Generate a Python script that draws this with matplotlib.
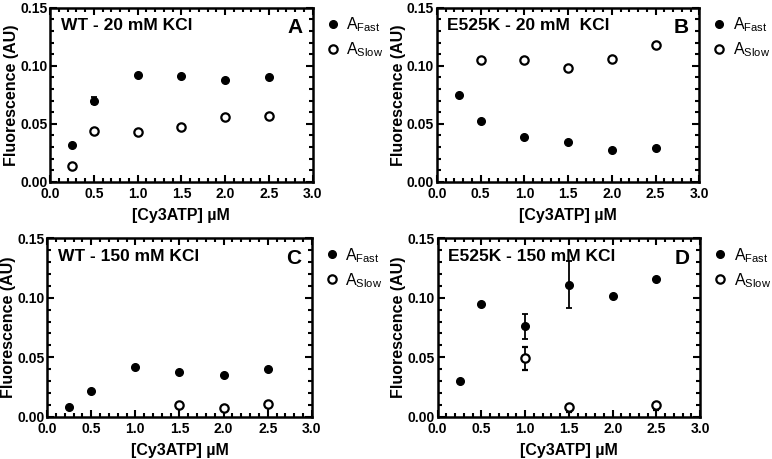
import numpy as np
import matplotlib.pyplot as plt
from matplotlib.lines import Line2D
from matplotlib.ticker import MultipleLocator, FormatStrFormatter

plt.rcParams['font.family'] = ['Liberation Sans', 'DejaVu Sans']

conc = [0.25, 0.5, 1.0, 1.5, 2.0, 2.5]

# panel A: WT 20 mM KCl
a_fast = [0.032, 0.070, 0.092, 0.091, 0.088, 0.090]
a_fast_err = [0, 0.003, 0, 0, 0, 0]
a_slow = [0.014, 0.044, 0.043, 0.047, 0.056, 0.057]

# panel B: E525K 20 mM KCl
b_fast = [0.075, 0.052, 0.039, 0.034, 0.027, 0.029]
b_slow_x = [0.5, 1.0, 1.5, 2.0, 2.5]
b_slow = [0.105, 0.105, 0.098, 0.106, 0.118]

# panel C: WT 150 mM KCl
c_fast = [0.008, 0.022, 0.042, 0.038, 0.035, 0.040]
c_slow_x = [1.5, 2.0, 2.5]
c_slow = [0.0095, 0.007, 0.0105]
c_slow_err = [0.005, 0.004, 0.005]

# panel D: E525K 150 mM KCl
d_fast = [0.030, 0.095, 0.076, 0.111, 0.1015, 0.116]
d_fast_err = [0, 0, 0.0103, 0.020, 0, 0]
d_slow_x = [1.0, 1.5, 2.5]
d_slow = [0.049, 0.008, 0.0095]
d_slow_err_lo = [0.010, 0.004, 0.004]
d_slow_err_hi = [0.010, 0, 0]

titles = ["WT - 20 mM KCl", "E525K - 20 mM  KCl", "WT - 150 mM KCl", "E525K - 150 mM KCl"]
letters = ["A", "B", "C", "D"]
positions = [
    [0.065, 0.604, 0.340, 0.379],
    [0.566, 0.604, 0.340, 0.379],
    [0.061, 0.092, 0.343, 0.389],
    [0.567, 0.092, 0.340, 0.389],
]

fig = plt.figure(figsize=(7.72, 4.59), dpi=100)
axes = [fig.add_axes(p) for p in positions]

fast_kw = dict(fmt='o', color='black', ms=5.5, capsize=2.5, elinewidth=1.3, capthick=1.3)
slow_kw = dict(fmt='o', color='black', mfc='white', mec='black', mew=1.6, ms=6,
               capsize=2.5, elinewidth=1.3, capthick=1.3)

ax = axes[0]
ax.errorbar(conc, a_fast, yerr=a_fast_err, **fast_kw)
ax.errorbar(conc, a_slow, **slow_kw)

ax = axes[1]
ax.errorbar(conc, b_fast, **fast_kw)
ax.errorbar(b_slow_x, b_slow, **slow_kw)

ax = axes[2]
ax.errorbar(conc, c_fast, **fast_kw)
ax.errorbar(c_slow_x, c_slow, yerr=[c_slow_err, [0] * 3], **dict(slow_kw, capsize=0))

ax = axes[3]
ax.errorbar(conc, d_fast, yerr=d_fast_err, **fast_kw)
ax.errorbar(d_slow_x, d_slow, yerr=[d_slow_err_lo, d_slow_err_hi], **slow_kw)

handles = [
    Line2D([], [], ls='none', marker='o', color='black', ms=5.5),
    Line2D([], [], ls='none', marker='o', mfc='white', mec='black', mew=1.6, ms=6),
]
labels = [r'A$_{\mathregular{Fast}}$', r'A$_{\mathregular{Slow}}$']

for i, ax in enumerate(axes):
    ax.set_xlim(0, 3.0)
    ax.set_ylim(0, 0.15)
    ax.xaxis.set_major_locator(MultipleLocator(0.5))
    ax.xaxis.set_minor_locator(MultipleLocator(0.1))
    ax.yaxis.set_major_locator(MultipleLocator(0.05))
    ax.yaxis.set_minor_locator(MultipleLocator(0.01))
    ax.xaxis.set_major_formatter(FormatStrFormatter('%.1f'))
    ax.yaxis.set_major_formatter(FormatStrFormatter('%.2f'))
    for s in ax.spines.values():
        s.set_linewidth(1.8)
    ax.tick_params(which='both', top=True, right=True, direction='in', width=1.5,
                   labelsize=10, pad=2)
    ax.tick_params(axis='x', pad=4)
    ax.tick_params(which='major', length=5)
    ax.tick_params(which='minor', length=3)
    for lab in ax.get_xticklabels() + ax.get_yticklabels():
        lab.set_fontweight('bold')
    ax.set_ylabel("Fluorescence (AU)", fontsize=11.5, fontweight='bold', labelpad=1)
    ax.set_xlabel("[Cy3ATP] µM", fontsize=11.5, fontweight='bold', labelpad=5)
    ax.text(0.04, 0.94, titles[i], transform=ax.transAxes, fontsize=12.5,
            fontweight='bold', va='top', ha='left')
    ax.text(0.96, 0.94, letters[i], transform=ax.transAxes, fontsize=15,
            fontweight='bold', va='top', ha='right')
    ax.legend(handles, labels, loc='upper left', bbox_to_anchor=(1.0, 1.02),
              frameon=False, fontsize=11.5, handletextpad=0.3, labelspacing=0.4,
              borderaxespad=0.3, handlelength=1.1)

fig.savefig("out.png", dpi=100)
